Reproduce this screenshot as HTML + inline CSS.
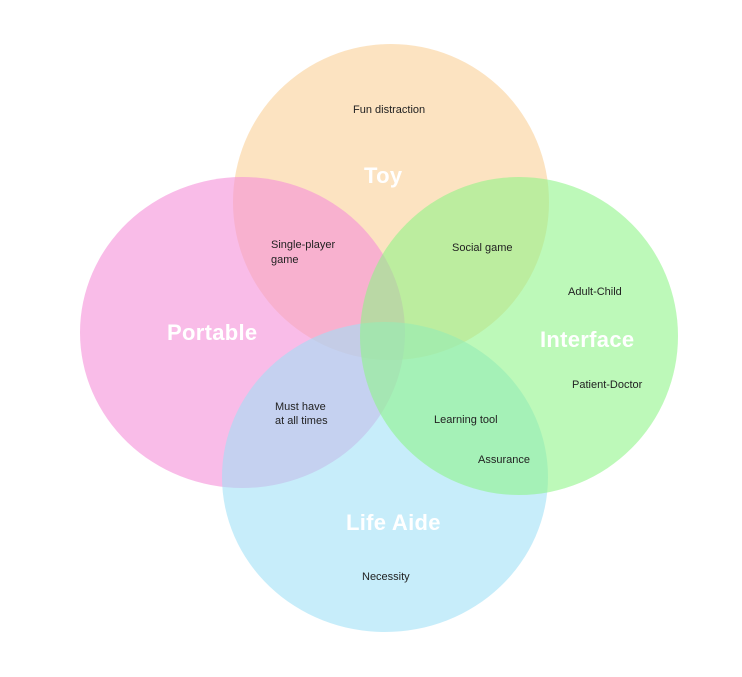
<!DOCTYPE html>
<html><head><meta charset="utf-8"><style>
html,body{margin:0;padding:0;background:#fff;}
svg{display:block;}
.s{font-family:"Liberation Sans",sans-serif;font-size:11px;fill:#222;}
.b{font-family:"Liberation Sans",sans-serif;font-size:22px;font-weight:bold;fill:#fff;letter-spacing:0.3px;}
</style></head><body>
<svg width="742" height="677" viewBox="0 0 742 677">
<circle cx="391" cy="202" r="158" fill="#fbd4a0" opacity="0.65"/>
<ellipse cx="242.5" cy="332.5" rx="162.5" ry="155.5" fill="#f590d8" opacity="0.6"/>
<ellipse cx="385" cy="477" rx="163" ry="155" fill="#9ee0f7" opacity="0.58"/>
<circle cx="519" cy="336" r="159" fill="#8ef586" opacity="0.58"/>
<text class="s" x="353" y="113">Fun distraction</text>
<text class="b" x="364" y="183">Toy</text>
<text class="s" x="271" y="248">Single-player</text>
<text class="s" x="271" y="263">game</text>
<text class="s" x="452" y="251">Social game</text>
<text class="b" x="167" y="340">Portable</text>
<text class="s" x="568" y="295">Adult-Child</text>
<text class="b" x="540" y="347">Interface</text>
<text class="s" x="572" y="388">Patient-Doctor</text>
<text class="s" x="275" y="410">Must have</text>
<text class="s" x="275" y="424">at all times</text>
<text class="s" x="434" y="423">Learning tool</text>
<text class="s" x="478" y="463">Assurance</text>
<text class="b" x="346" y="530">Life Aide</text>
<text class="s" x="362" y="580">Necessity</text>
</svg>
</body></html>
